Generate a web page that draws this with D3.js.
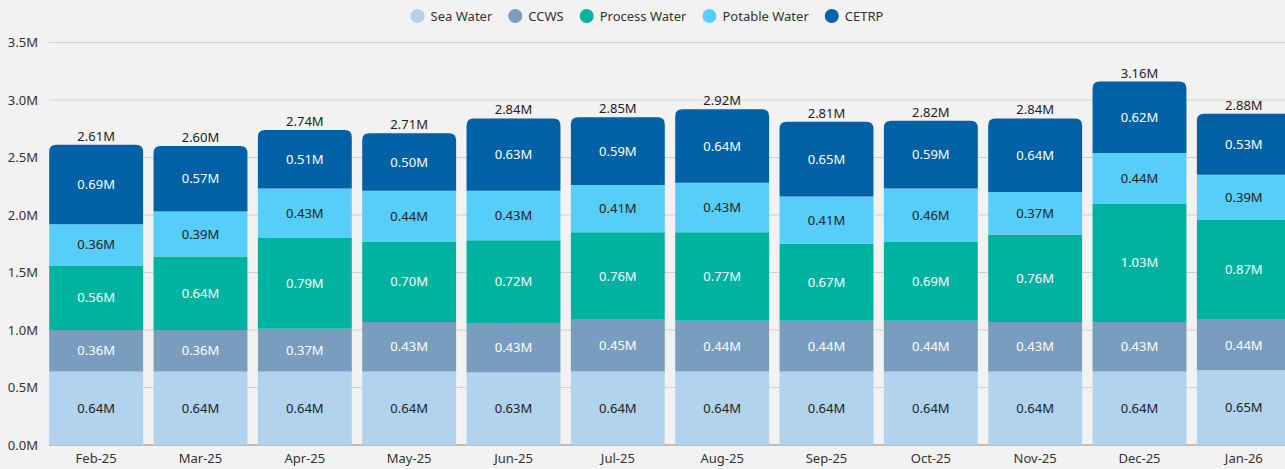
<!DOCTYPE html>
<html>
<head>
<meta charset="utf-8">
<script src="https://cdn.jsdelivr.net/npm/d3@7"></script>
<style>
  body { margin: 0; background: #f2f2f2; overflow: hidden; }
  text { font-family: "Noto Sans", "Open Sans", sans-serif; }
</style>
</head>
<body>
<div id="chart"></div>
<script>
// Months and series values (millions)
var months = ["Feb-25", "Mar-25", "Apr-25", "May-25", "Jun-25", "Jul-25", "Aug-25", "Sep-25", "Oct-25", "Nov-25", "Dec-25", "Jan-26"];
var seaWater = [0.64, 0.64, 0.64, 0.64, 0.63, 0.64, 0.64, 0.64, 0.64, 0.64, 0.64, 0.65];
var ccws = [0.36, 0.36, 0.37, 0.43, 0.43, 0.45, 0.44, 0.44, 0.44, 0.43, 0.43, 0.44];
var processWater = [0.56, 0.64, 0.79, 0.70, 0.72, 0.76, 0.77, 0.67, 0.69, 0.76, 1.03, 0.87];
var potableWater = [0.36, 0.39, 0.43, 0.44, 0.43, 0.41, 0.43, 0.41, 0.46, 0.37, 0.44, 0.39];
var cetrp = [0.69, 0.57, 0.51, 0.50, 0.63, 0.59, 0.64, 0.65, 0.59, 0.64, 0.62, 0.53];
var yTicks = [0, 0.5, 1.0, 1.5, 2.0, 2.5, 3.0, 3.5];

var seriesNames = ["Sea Water", "CCWS", "Process Water", "Potable Water", "CETRP"];
var seriesValues = [seaWater, ccws, processWater, potableWater, cetrp];
var colors = ["#b1d3ee", "#789dbf", "#00b3a0", "#57cdfa", "#0061a6"];
var labelColors = ["#222", "#fff", "#fff", "#222", "#fff"];

var width = 1285, height = 469;
var fs = 13;

var svg = d3.select("#chart").append("svg")
    .attr("width", width)
    .attr("height", height);

// Build rows for stacking
var rows = months.map(function (m, i) {
    var r = { month: m };
    seriesNames.forEach(function (s, j) { r[s] = seriesValues[j][i]; });
    return r;
});

var stack = d3.stack().keys(seriesNames);
var layers = stack(rows);

var x = d3.scaleBand()
    .domain(months)
    .range([44, 1296])
    .paddingInner(0.1)
    .paddingOuter(0.05);

var y = d3.scaleLinear()
    .domain([0, 3.5])
    .range([445, 42.5]);

// Gridlines
svg.append("g")
    .selectAll("line")
    .data(yTicks)
    .enter()
    .append("line")
    .attr("x1", 49)
    .attr("x2", width)
    .attr("y1", function (d) { return y(d); })
    .attr("y2", function (d) { return y(d); })
    .attr("stroke", function (d) { return d === 0 ? "#888" : "#cfcfcf"; })
    .attr("stroke-width", 1);

// Y tick labels
svg.append("g")
    .selectAll("text")
    .data(yTicks)
    .enter()
    .append("text")
    .attr("x", 38)
    .attr("y", function (d) { return y(d); })
    .attr("dy", "0.35em")
    .attr("text-anchor", "end")
    .attr("font-size", fs)
    .attr("fill", "#333")
    .text(function (d) { return d.toFixed(1) + "M"; });

// X labels
svg.append("g")
    .selectAll("text")
    .data(months)
    .enter()
    .append("text")
    .attr("x", function (d) { return x(d) + x.bandwidth() / 2; })
    .attr("y", 458)
    .attr("dy", "0.35em")
    .attr("text-anchor", "middle")
    .attr("font-size", fs)
    .attr("fill", "#333")
    .text(function (d) { return d; });

// Rounded-top rectangle path
function topRounded(x0, y0, w, h, r) {
    return "M" + x0 + "," + (y0 + h) +
        "V" + (y0 + r) +
        "Q" + x0 + "," + y0 + " " + (x0 + r) + "," + y0 +
        "H" + (x0 + w - r) +
        "Q" + (x0 + w) + "," + y0 + " " + (x0 + w) + "," + (y0 + r) +
        "V" + (y0 + h) + "Z";
}

// Bars
layers.forEach(function (layer, li) {
    var g = svg.append("g");
    var isTop = li === layers.length - 1;
    g.selectAll("path")
        .data(layer)
        .enter()
        .append("path")
        .attr("fill", colors[li])
        .attr("d", function (d) {
            var x0 = x(d.data.month), w = x.bandwidth();
            var y0 = y(d[1]), h = y(d[0]) - y(d[1]);
            return topRounded(x0, y0, w, h, isTop ? 7 : 0);
        });

    g.selectAll("text")
        .data(layer)
        .enter()
        .append("text")
        .attr("x", function (d) { return x(d.data.month) + x.bandwidth() / 2; })
        .attr("y", function (d) { return (y(d[0]) + y(d[1])) / 2; })
        .attr("dy", "0.35em")
        .attr("text-anchor", "middle")
        .attr("font-size", fs)
        .attr("fill", labelColors[li])
        .text(function (d) { return (d[1] - d[0]).toFixed(2) + "M"; });
});

// Totals above bars
svg.append("g")
    .selectAll("text")
    .data(layers[layers.length - 1])
    .enter()
    .append("text")
    .attr("x", function (d) { return x(d.data.month) + x.bandwidth() / 2; })
    .attr("y", function (d) { return y(d[1]) - 4; })
    .attr("text-anchor", "middle")
    .attr("font-size", fs)
    .attr("fill", "#222")
    .text(function (d) { return d[1].toFixed(2) + "M"; });

// Legend
var legend = svg.append("g");
var items = legend.selectAll("g")
    .data(seriesNames)
    .enter()
    .append("g");
items.append("circle")
    .attr("r", 7)
    .attr("cy", 16)
    .attr("fill", function (d, i) { return colors[i]; });
items.append("text")
    .attr("x", 13)
    .attr("y", 16)
    .attr("dy", "0.35em")
    .attr("font-size", fs)
    .attr("fill", "#333")
    .text(function (d) { return d; });

var pos = 0, offsets = [];
items.each(function () {
    offsets.push(pos);
    var tw = d3.select(this).select("text").node().getComputedTextLength();
    pos += 13 + tw + 23;
});
var totalW = pos - 23 + 7;
var startX = 647 - totalW / 2 + 7;
items.attr("transform", function (d, i) { return "translate(" + (startX + offsets[i]) + ",0)"; });
</script>
</body>
</html>
